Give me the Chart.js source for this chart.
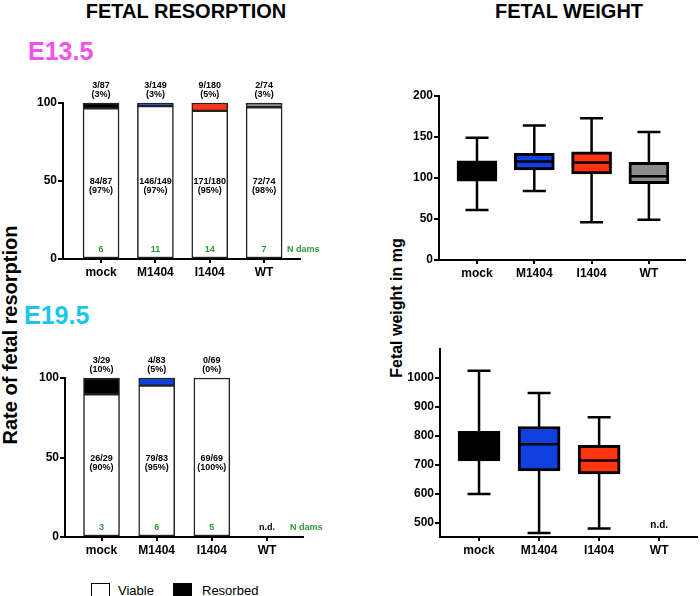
<!DOCTYPE html>
<html>
<head>
<meta charset="utf-8">
<script src="https://cdn.jsdelivr.net/npm/chart.js@4.4.1/dist/chart.umd.min.js"></script>
<style>
  body { margin: 0; background: #fff; }
  #fig { position: relative; width: 700px; height: 596px; overflow: hidden; font-family: 'Liberation Sans', Arial, sans-serif; }
  .c { position: absolute; transform: translate(-50%, -50%); font-weight: bold; white-space: nowrap; }
  .l { position: absolute; transform: translateY(-50%); white-space: nowrap; }
  .rot { transform: translate(-50%, -50%) rotate(-90deg); }
  canvas { position: absolute; }
  .box { position: absolute; width: 17px; height: 12px; border: 1.5px solid #000; }
</style>
</head>
<body>
<div id="fig">
  <div class="c" style="left:186px;top:11px;font-size:20px">FETAL RESORPTION</div>
  <div class="c" style="left:569px;top:11px;font-size:20px">FETAL WEIGHT</div>
  <div class="l" style="left:28px;top:51px;font-size:25px;font-weight:bold;color:#f451f0">E13.5</div>
  <div class="l" style="left:24px;top:315px;font-size:25px;font-weight:bold;color:#19c6ee">E19.5</div>
  <div class="c rot" style="left:10px;top:335px;font-size:20px">Rate of fetal resorption</div>
  <div class="c rot" style="left:397px;top:308px;font-size:16px">Fetal weight in mg</div>

  <div class="box" style="left:91px;top:583px;background:#fff"></div>
  <div class="l" style="left:118px;top:590px;font-size:13px">Viable</div>
  <div class="box" style="left:173px;top:583px;background:#000"></div>
  <div class="l" style="left:202px;top:590px;font-size:13px">Resorbed</div>

  <canvas id="rate13" width="320" height="210" style="left:20px;top:70px"></canvas>
  <canvas id="rate19" width="320" height="220" style="left:20px;top:340px"></canvas>
  <canvas id="weight13" width="305" height="205" style="left:390px;top:80px"></canvas>
  <canvas id="weight19" width="310" height="225" style="left:390px;top:340px"></canvas>
</div>
<script>
const FONT = "'Liberation Sans', Arial, sans-serif";
Chart.defaults.font.family = FONT;
Chart.defaults.color = "#000";

const groups = ["mock", "M1404", "I1404", "WT"];
const colors = ["#000000", "#1040e0", "#ff3512", "#8c8c8c"];

// E13.5 resorption counts
const e13Resorbed = [3, 3, 9, 2];
const e13Total = [87, 149, 180, 74];
const e13TopPct = ["3%", "3%", "5%", "3%"];
const e13MidPct = ["97%", "97%", "95%", "98%"];
const e13Dams = [6, 11, 14, 7];

// E19.5 resorption counts (WT not done)
const e19Resorbed = [3, 4, 0, null];
const e19Total = [29, 83, 69, null];
const e19TopPct = ["10%", "5%", "0%", null];
const e19MidPct = ["90%", "95%", "100%", null];
const e19Dams = [3, 6, 5, null];

// fetal weight in mg, box plots (min, q1, median, q3, max)
const w13Min = [61, 84, 46, 49];
const w13Q1 = [96, 110, 105, 93];
const w13Med = [108, 120, 119, 102];
const w13Q3 = [121, 130, 132, 119];
const w13Max = [149, 164, 173, 156];

const w19Min = [600, 466, 481, null];
const w19Q1 = [714, 680, 669, null];
const w19Med = [765, 772, 716, null];
const w19Q3 = [816, 833, 768, null];
const w19Max = [1025, 948, 865, null];

const rateTicks = [0, 50, 100];
const w13Ticks = [0, 50, 100, 150, 200];
const w19Ticks = [500, 600, 700, 800, 900, 1000];

// labels on the resorption bars
const rateLabels = {
  id: "rateLabels",
  afterDatasetsDraw(chart, args, o) {
    const { ctx, scales: { x, y } } = chart;
    const y0 = y.getPixelForValue(0);
    const y50 = y.getPixelForValue(50);
    const y100 = y.getPixelForValue(100);
    ctx.save();
    ctx.textAlign = "center";
    ctx.textBaseline = "middle";
    o.total.forEach((t, i) => {
      const cx = x.getPixelForValue(i + 1);
      if (t == null) {
        ctx.fillStyle = "#000";
        ctx.font = "bold 9px " + FONT;
        ctx.fillText("n.d.", cx, y0 - 9);
        return;
      }
      const viable = t - o.resorbed[i];
      ctx.fillStyle = "#000";
      ctx.font = "bold 9px " + FONT;
      ctx.fillText(o.resorbed[i] + "/" + t, cx, y100 - 17);
      ctx.fillText("(" + o.topPct[i] + ")", cx, y100 - 8);
      ctx.fillText(viable + "/" + t, cx, y50 + 1);
      ctx.fillText("(" + o.midPct[i] + ")", cx, y50 + 10);
      ctx.fillStyle = "#2a9a3a";
      ctx.fillText(String(o.dams[i]), cx, y0 - 9);
    });
    ctx.fillStyle = "#2a9a3a";
    ctx.font = "bold 9px " + FONT;
    ctx.textAlign = "left";
    ctx.fillText("N dams", x.right - 13, y0 - 9);
    ctx.restore();
  }
};

// whiskers and medians for the box plots
const boxParts = {
  id: "boxParts",
  beforeDatasetsDraw(chart, args, o) {
    const { ctx, scales: { x, y } } = chart;
    ctx.save();
    ctx.strokeStyle = "#000";
    ctx.lineWidth = 2.5;
    o.min.forEach((lo, i) => {
      if (lo == null) return;
      const cx = x.getPixelForValue(i + 1);
      const yl = y.getPixelForValue(lo), yh = y.getPixelForValue(o.max[i]);
      ctx.beginPath();
      ctx.moveTo(cx, yl); ctx.lineTo(cx, yh);
      ctx.moveTo(cx - 11.5, yl); ctx.lineTo(cx + 11.5, yl);
      ctx.moveTo(cx - 11.5, yh); ctx.lineTo(cx + 11.5, yh);
      ctx.stroke();
    });
    ctx.restore();
  },
  afterDatasetsDraw(chart, args, o) {
    const { ctx, scales: { x, y } } = chart;
    ctx.save();
    ctx.strokeStyle = "#000";
    ctx.lineWidth = 2.5;
    o.med.forEach((m, i) => {
      if (m == null) return;
      const cx = x.getPixelForValue(i + 1);
      const ym = y.getPixelForValue(m);
      ctx.beginPath();
      ctx.moveTo(cx - o.half, ym); ctx.lineTo(cx + o.half, ym);
      ctx.stroke();
    });
    if (o.nd) {
      ctx.fillStyle = "#000";
      ctx.font = "bold 10px " + FONT;
      ctx.textAlign = "center";
      ctx.textBaseline = "middle";
      o.min.forEach((lo, i) => {
        if (lo == null) ctx.fillText("n.d.", x.getPixelForValue(i + 1), y.bottom - 12);
      });
    }
    ctx.restore();
  }
};

const axisGrid = { display: true, drawOnChartArea: false, color: "#000", lineWidth: 2, tickLength: 5, offset: false };
const axisBorder = { display: true, color: "#000", width: 2 };

function xScale(min, max, h) {
  return {
    type: "linear", min: min, max: max, stacked: true, offset: false,
    afterBuildTicks: (s) => { s.ticks = groups.map((g, i) => ({ value: i + 1 })); },
    afterFit: (s) => { s.height = h; },
    grid: { ...axisGrid, tickLength: 4 },
    border: axisBorder,
    ticks: { font: { size: 12, weight: "bold" }, padding: 2, maxRotation: 0, callback: (v) => groups[v - 1] }
  };
}

function yScale(min, max, ticks, w) {
  return {
    min: min, max: max, stacked: true,
    afterBuildTicks: (s) => { s.ticks = ticks.map((v) => ({ value: v })); },
    afterFit: (s) => { s.width = w; },
    grid: axisGrid,
    border: axisBorder,
    ticks: { font: { size: 12, weight: "bold" }, padding: 1, callback: (v) => String(v) }
  };
}

function rateChart(id, resorbed, total, topPct, midPct, dams, geo) {
  const viable = groups.map((g, i) => ({ x: i + 1, y: total[i] == null ? null : (total[i] - resorbed[i]) / total[i] * 100 }));
  const dead = groups.map((g, i) => ({ x: i + 1, y: total[i] == null ? null : resorbed[i] / total[i] * 100 }));
  new Chart(document.getElementById(id), {
    type: "bar",
    plugins: [rateLabels],
    data: {
      datasets: [
        { data: viable, backgroundColor: "#fff", borderColor: "#222", borderWidth: 1.5, borderSkipped: false, barThickness: 36, clip: false },
        { data: dead, backgroundColor: colors, borderColor: "#222", borderWidth: 1.5, borderSkipped: false, barThickness: 36, clip: false }
      ]
    },
    options: {
      responsive: false,
      animation: false,
      layout: { padding: geo.pad },
      plugins: {
        legend: { display: false },
        tooltip: { enabled: false },
        rateLabels: { resorbed: resorbed, total: total, topPct: topPct, midPct: midPct, dams: dams }
      },
      scales: { x: xScale(geo.xMin, geo.xMax, geo.xh), y: yScale(0, 100, rateTicks, geo.yw) }
    }
  });
}

function weightChart(id, lo, q1, med, q3, hi, ticks, geo) {
  const boxes = groups.map((g, i) => ({ x: i + 1, y: q1[i] == null ? null : [q1[i], q3[i]] }));
  new Chart(document.getElementById(id), {
    type: "bar",
    plugins: [boxParts],
    data: {
      datasets: [
        { data: boxes, backgroundColor: colors, borderColor: "#000", borderWidth: 3, borderSkipped: false, barThickness: geo.bw, clip: false }
      ]
    },
    options: {
      responsive: false,
      animation: false,
      layout: { padding: geo.pad },
      plugins: {
        legend: { display: false },
        tooltip: { enabled: false },
        boxParts: { min: lo, med: med, max: hi, half: geo.bw / 2 - 1, nd: geo.nd }
      },
      scales: { x: xScale(geo.xMin, geo.xMax, geo.xh), y: { ...yScale(geo.yMin, geo.yMax, ticks, geo.yw), stacked: false } }
    }
  });
}

rateChart("rate13", e13Resorbed, e13Total, e13TopPct, e13MidPct, e13Dams,
  { pad: { top: 33, right: 40, left: 0, bottom: 0 }, xMin: 0.30, xMax: 4.66, xh: 21, yw: 43 });
rateChart("rate19", e19Resorbed, e19Total, e19TopPct, e19MidPct, e19Dams,
  { pad: { top: 38, right: 37, left: 0, bottom: 0 }, xMin: 0.338, xMax: 4.652, xh: 23, yw: 45 });
weightChart("weight13", w13Min, w13Q1, w13Med, w13Q3, w13Max, w13Ticks,
  { pad: { top: 16, right: 10, left: 0, bottom: 0 }, xMin: 0.337, xMax: 4.63, xh: 25, yw: 49, yMin: 0, yMax: 200, bw: 40, nd: false });
weightChart("weight19", w19Min, w19Q1, w19Med, w19Q3, w19Max, w19Ticks,
  { pad: { top: 9, right: 3, left: 0, bottom: 0 }, xMin: 0.35, xMax: 4.63, xh: 28, yw: 50, yMin: 452, yMax: 1100, bw: 42, nd: true });
</script>
</body>
</html>
